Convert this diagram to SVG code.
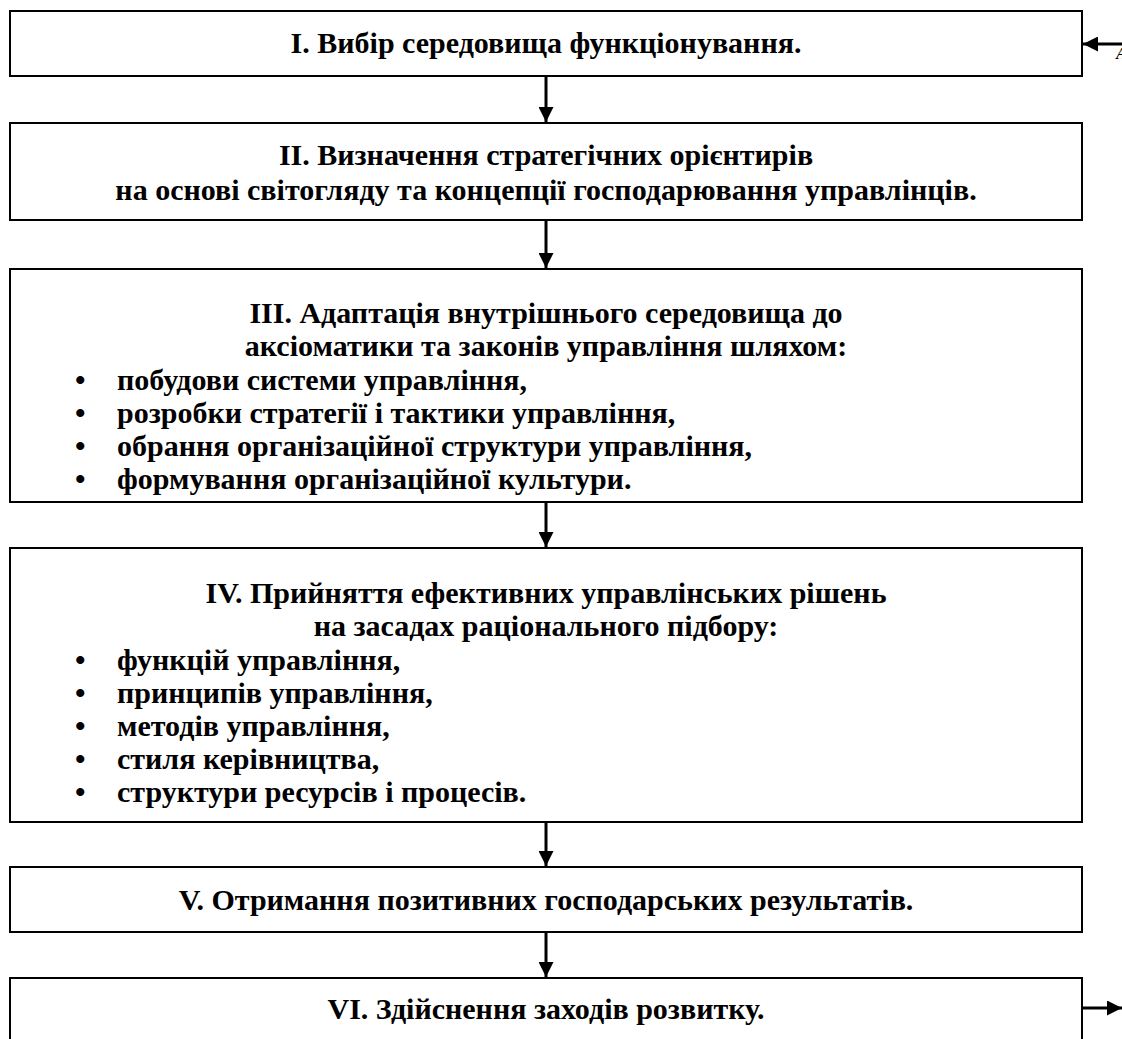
<svg xmlns="http://www.w3.org/2000/svg" width="1122" height="1039" viewBox="0 0 1122 1039">
<style>
.box{fill:#fff;stroke:#000;stroke-width:2}
.t{font-family:"Liberation Serif","Times New Roman",serif;font-weight:bold;font-size:30px;fill:#000}
.c{text-anchor:middle}
.ln{stroke:#000;stroke-width:3;fill:none}
</style>
<defs>
<marker id="ah" viewBox="0 0 10 10" refX="10" refY="5" markerWidth="5" markerHeight="5" markerUnits="strokeWidth" orient="auto">
<path d="M0,0 L10,5 L0,10 Z" fill="#000"/>
</marker>
</defs>
<rect width="1122" height="1039" fill="#fff"/>
<g id="n1"><rect class="box" x="10" y="11" width="1072" height="65"/>
<text class="t c" x="546" y="53">І. Вибір середовища функціонування.</text></g>
<g id="n2"><rect class="box" x="10" y="123" width="1072" height="97"/>
<text class="t c" x="546" y="165">ІІ. Визначення стратегічних орієнтирів</text>
<text class="t c" x="546" y="200">на основі світогляду та концепції господарювання управлінців.</text></g>
<g id="n3"><rect class="box" x="10" y="269" width="1072" height="233"/>
<text class="t c" x="546" y="323">ІІІ. Адаптація внутрішнього середовища до</text>
<text class="t c" x="546" y="356">аксіоматики та законів управління шляхом:</text>
<text class="t" x="75" y="390">•</text><text class="t" x="117" y="390">побудови системи управління,</text>
<text class="t" x="75" y="423">•</text><text class="t" x="117" y="423">розробки стратегії і тактики управління,</text>
<text class="t" x="75" y="456">•</text><text class="t" x="117" y="456">обрання організаційної структури управління,</text>
<text class="t" x="75" y="489">•</text><text class="t" x="117" y="489">формування організаційної культури.</text></g>
<g id="n4"><rect class="box" x="10" y="548" width="1072" height="274"/>
<text class="t c" x="546" y="603">IV. Прийняття ефективних управлінських рішень</text>
<text class="t c" x="546" y="636">на засадах раціонального підбору:</text>
<text class="t" x="75" y="670">•</text><text class="t" x="117" y="670">функцій управління,</text>
<text class="t" x="75" y="703">•</text><text class="t" x="117" y="703">принципів управління,</text>
<text class="t" x="75" y="736">•</text><text class="t" x="117" y="736">методів управління,</text>
<text class="t" x="75" y="769">•</text><text class="t" x="117" y="769">стиля керівництва,</text>
<text class="t" x="75" y="802">•</text><text class="t" x="117" y="802">структури ресурсів і процесів.</text></g>
<g id="n5"><rect class="box" x="10" y="867" width="1072" height="65"/>
<text class="t c" x="546" y="910">V. Отримання позитивних господарських результатів.</text></g>
<g id="n6"><rect class="box" x="10" y="978" width="1072" height="80"/>
<text class="t c" x="546" y="1019">VІ. Здійснення заходів розвитку.</text></g>
<g id="connectors">
<line class="ln" x1="546" y1="77" x2="546" y2="122" marker-end="url(#ah)"/>
<line class="ln" x1="546" y1="221" x2="546" y2="268" marker-end="url(#ah)"/>
<line class="ln" x1="546" y1="503" x2="546" y2="547" marker-end="url(#ah)"/>
<line class="ln" x1="546" y1="823" x2="546" y2="866" marker-end="url(#ah)"/>
<line class="ln" x1="546" y1="933" x2="546" y2="977" marker-end="url(#ah)"/>
<line class="ln" x1="1122" y1="44" x2="1083" y2="44" marker-end="url(#ah)"/>
<line class="ln" x1="1083" y1="1008" x2="1122" y2="1008" marker-end="url(#ah)"/>
</g>
<text x="1116" y="59" style="font-family:'Liberation Serif',serif;font-weight:bold;font-style:italic;font-size:17px">А</text>
</svg>
